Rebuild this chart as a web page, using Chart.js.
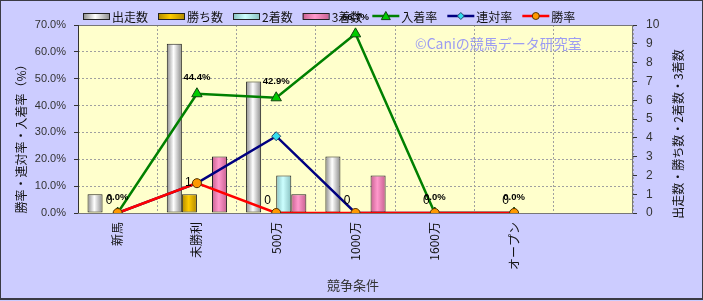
<!DOCTYPE html>
<html><head><meta charset="utf-8">
<script src="https://cdn.jsdelivr.net/npm/chart.js@4/dist/chart.umd.min.js"></script>
<style>html,body{margin:0;padding:0;background:#fff;}canvas{display:block}</style>
</head><body>
<canvas id="c" width="703" height="301"></canvas>
<script>
// ---- data ----
const categories = ['新馬', '未勝利', '500万', '1000万', '1600万', 'オープン', ''];
const runs     = [1, 9, 7, 3, 0, 0, null];   // 出走数
const wins     = [0, 1, 0, 0, 0, 0, null];   // 勝ち数
const seconds  = [0, 0, 2, 0, 0, 0, null];   // 2着数
const thirds   = [0, 3, 1, 2, 0, 0, null];   // 3着数
const placeRate    = [0, 44.4, 42.9, 66.7, 0, 0, null]; // 入着率
const quinellaRate = [0, 11.1, 28.6, 0, 0, 0, null];    // 連対率
const winRate      = [0, 11.1, 0, 0, 0, 0, null];       // 勝率
const leftTicks  = [0, 10, 20, 30, 40, 50, 60, 70];
const rightTicks = [0, 1, 2, 3, 4, 5, 6, 7, 8, 9, 10];
const leftTitle = '勝率・連対率・入着率（%）';
const rightTitle = '出走数・勝ち数・2着数・3着数';
const xTitle = '競争条件';
const watermark = '©Caniの競馬データ研究室';

const NUMF = "'Liberation Sans', Arial, sans-serif";
const JPF = "'Noto Sans CJK JP', sans-serif";

function barGrad(edge, mid) {
  return (ctx) => {
    if (ctx.type !== 'data') return mid;
    const el = ctx.chart.getDatasetMeta(ctx.datasetIndex).data[ctx.dataIndex];
    if (!el || !isFinite(el.x) || !el.width) return mid;
    const g = ctx.chart.ctx.createLinearGradient(el.x - el.width / 2, 0, el.x + el.width / 2, 0);
    g.addColorStop(0, edge); g.addColorStop(0.45, mid); g.addColorStop(1, edge);
    return g;
  };
}
const barStyles = [
  ['#8a8a8a', '#ffffff'],
  ['#b08800', '#ffcc00'],
  ['#88c0c0', '#ccffff'],
  ['#c86090', '#ff99cc']
];
function barDs(label, data, i) {
  return { type: 'bar', label, data, yAxisID: 'y2', order: 10,
    backgroundColor: barGrad(barStyles[i][0], barStyles[i][1]),
    borderColor: '#222', borderWidth: 1, borderSkipped: false,
    categoryPercentage: 0.76, barPercentage: 1.0,
    _edge: barStyles[i][0], _mid: barStyles[i][1] };
}
const datasets = [
  barDs('出走数', runs, 0),
  barDs('勝ち数', wins, 1),
  barDs('2着数', seconds, 2),
  barDs('3着数', thirds, 3),
  { type: 'line', label: '入着率', data: placeRate, yAxisID: 'y', order: 3,
    borderColor: '#008000', borderWidth: 2.5, pointStyle: 'triangle', pointRadius: 6,
    pointBackgroundColor: '#00cc00', pointBorderColor: '#114411', pointBorderWidth: 1 },
  { type: 'line', label: '連対率', data: quinellaRate, yAxisID: 'y', order: 2,
    borderColor: '#000080', borderWidth: 2.5, pointStyle: 'rectRot', pointRadius: 4.5,
    pointBackgroundColor: '#33ddee', pointBorderColor: '#224466', pointBorderWidth: 1 },
  { type: 'line', label: '勝率', data: winRate, yAxisID: 'y', order: 1,
    borderColor: '#ff0000', borderWidth: 2.5, pointStyle: 'circle', pointRadius: 4.5,
    pointBackgroundColor: '#ff9900', pointBorderColor: '#553300', pointBorderWidth: 1 }
];

const bgPlugin = {
  id: 'bg',
  beforeDraw(chart) {
    const { ctx, chartArea: a } = chart;
    ctx.save();
    ctx.fillStyle = '#ccccff';
    ctx.fillRect(0, 0, chart.width, chart.height);
    ctx.fillStyle = '#ffffcc';
    ctx.fillRect(a.left, a.top, a.right - a.left, a.bottom - a.top);
    ctx.fillStyle = '#9c9cf2';
    ctx.font = '14px ' + JPF;
    ctx.textAlign = 'left'; ctx.textBaseline = 'middle';
    ctx.fillText(watermark, 415, 44);
    ctx.restore();
  },
  beforeDatasetsDraw(chart) {
    const { ctx, chartArea: a } = chart;
    ctx.save();
    ctx.strokeStyle = '#777'; ctx.lineWidth = 1;
    ctx.strokeRect(a.left + 0.5, a.top + 0.5, a.right - a.left - 1, a.bottom - a.top);
    ctx.strokeStyle = '#333';
    ctx.beginPath(); ctx.moveTo(a.left + 0.5, a.top); ctx.lineTo(a.left + 0.5, a.bottom); ctx.stroke();
    ctx.restore();
  },
  afterDatasetsDraw(chart) {
    const { ctx } = chart;
    ctx.save();
    const mw = chart.getDatasetMeta(1);
    ctx.fillStyle = '#000'; ctx.font = '12px ' + NUMF;
    ctx.textAlign = 'center'; ctx.textBaseline = 'middle';
    mw.data.forEach((el, i) => {
      if (wins[i] == null) return;
      ctx.fillText(String(wins[i]), el.x - 1, el.y - 12);
    });
    const mp = chart.getDatasetMeta(4);
    ctx.font = 'bold 9.5px ' + NUMF;
    mp.data.forEach((el, i) => {
      if (placeRate[i] == null) return;
      ctx.fillText(placeRate[i].toFixed(1) + '%', el.x, el.y - 16);
    });
    ctx.restore();
  },
  afterDraw(chart) {
    const { ctx } = chart;
    ctx.save();
    ctx.fillStyle = '#111';
    ctx.font = '12px ' + JPF;
    ctx.textAlign = 'center'; ctx.textBaseline = 'middle';
    ctx.save(); ctx.translate(21, 136); ctx.rotate(-Math.PI / 2); ctx.fillText(leftTitle, 0, 0); ctx.restore();
    ctx.save(); ctx.translate(678, 134); ctx.rotate(-Math.PI / 2); ctx.fillText(rightTitle, 0, 0); ctx.restore();
    ctx.fillStyle = '#333';
    ctx.font = '13px ' + JPF;
    ctx.fillText(xTitle, 353, 285);
    // legend
    let x = 83; const y = 16;
    ctx.font = '12px ' + JPF; ctx.textAlign = 'left';
    chart.data.datasets.forEach((ds) => {
      if (ds.type === 'bar') {
        const g = ctx.createLinearGradient(x, 0, x + 27, 0);
        g.addColorStop(0, ds._edge); g.addColorStop(0.45, ds._mid); g.addColorStop(1, ds._edge);
        ctx.fillStyle = g;
        ctx.fillRect(x, y - 3, 26, 6);
        ctx.strokeStyle = '#222'; ctx.lineWidth = 1;
        ctx.strokeRect(x + 0.5, y - 2.5, 26, 6);
      } else {
        ctx.strokeStyle = ds.borderColor; ctx.lineWidth = 2.5;
        ctx.beginPath(); ctx.moveTo(x, y); ctx.lineTo(x + 27, y); ctx.stroke();
        ctx.fillStyle = ds.pointBackgroundColor; ctx.strokeStyle = ds.pointBorderColor; ctx.lineWidth = 1;
        ctx.beginPath();
        const cx = x + 13.5;
        const r = ds.pointStyle === 'triangle' ? 4.5 : 3.5;
        if (ds.pointStyle === 'triangle') {
          ctx.moveTo(cx, y - r); ctx.lineTo(cx + r, y + r * 0.8); ctx.lineTo(cx - r, y + r * 0.8); ctx.closePath();
        } else if (ds.pointStyle === 'rectRot') {
          ctx.moveTo(cx, y - r); ctx.lineTo(cx + r, y); ctx.lineTo(cx, y + r); ctx.lineTo(cx - r, y); ctx.closePath();
        } else {
          ctx.arc(cx, y, r, 0, Math.PI * 2);
        }
        ctx.fill(); ctx.stroke();
      }
      ctx.fillStyle = '#111';
      ctx.fillText(ds.label, x + 29, y + 1);
      x += 29 + ctx.measureText(ds.label).width + 10;
    });
    ctx.strokeStyle = '#3a3a44'; ctx.lineWidth = 1;
    ctx.strokeRect(0.5, 0.5, 702, 298.5);
    ctx.fillStyle = '#3a3a44';
    ctx.fillRect(0, 298, 703, 2);
    ctx.restore();
  }
};

const chart = new Chart(document.getElementById('c'), {
  data: { labels: categories, datasets },
  options: {
    responsive: false, animation: false, devicePixelRatio: 1,
    layout: { padding: { top: 25, left: 0, right: 0, bottom: 0 } },
    plugins: { legend: { display: false }, tooltip: { enabled: false } },
    scales: {
      x: {
        offset: true,
        grid: { offset: true, color: '#a0a0a0', lineWidth: 1, drawTicks: false },
        border: { display: false, dash: [2, 2] },
        ticks: { minRotation: 90, maxRotation: 90, padding: 9, autoSkip: false,
          color: '#111', font: { family: JPF, size: 12 } },
        afterFit(s) { s.height = 88; }
      },
      y: {
        position: 'left', min: 0, max: 70,
        afterBuildTicks(s) { s.ticks = leftTicks.map(v => ({ value: v })); },
        grid: { color: '#a0a0a0', lineWidth: 1, tickLength: 4, tickColor: '#333' },
        border: { display: false, dash: [2, 2] },
        ticks: { padding: 8, color: '#333', font: { family: NUMF, size: 11 },
          callback: v => Number(v).toFixed(1) + '%' },
        afterFit(s) { s.width = 78; }
      },
      y2: {
        position: 'right', min: 0, max: 10,
        afterBuildTicks(s) { s.ticks = rightTicks.map(v => ({ value: v })); },
        grid: { drawOnChartArea: false, tickLength: 4, tickColor: '#333' },
        border: { display: false },
        ticks: { padding: 9, color: '#333', font: { family: NUMF, size: 12 } },
        afterFit(s) { s.width = 70; }
      }
    }
  },
  plugins: [bgPlugin]
});
chart.update();
</script>
</body></html>
